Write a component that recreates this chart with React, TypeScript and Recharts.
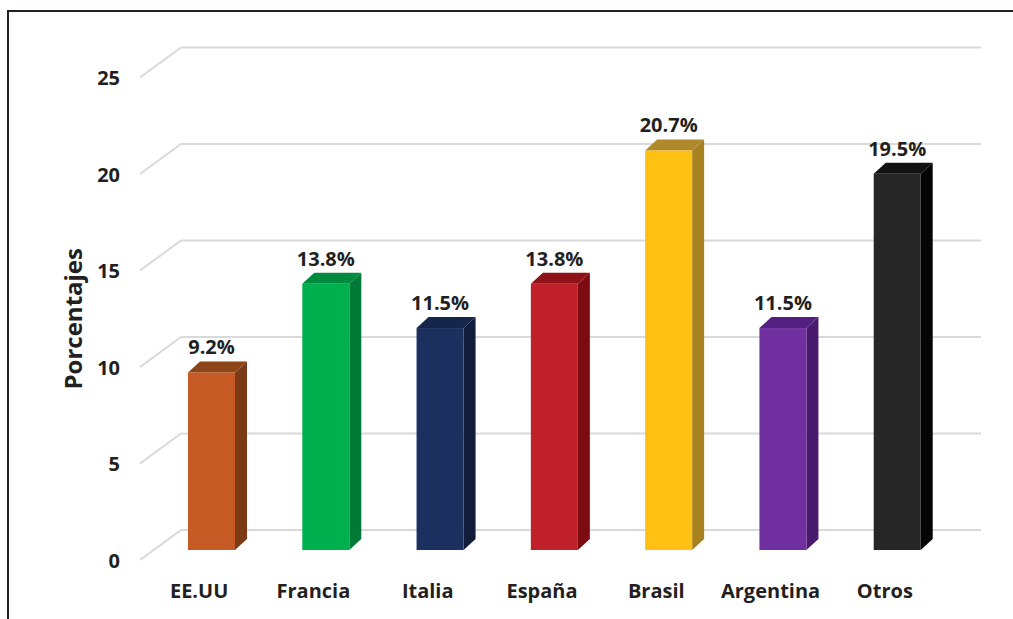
import React from "react";
import { Bar, BarChart, CartesianGrid, LabelList, XAxis, YAxis } from "recharts";

const countries = ["EE.UU", "Francia", "Italia", "España", "Brasil", "Argentina", "Otros"];
const shares = [9.2, 13.8, 11.5, 13.8, 20.7, 11.5, 19.5];
const yTicks = [0, 5, 10, 15, 20, 25];

// front / top / side shades for the fake 3D bars
const palette = [
  { front: "#c55a24", top: "#8c4419", side: "#7b3b16" },
  { front: "#00b04f", top: "#008a3e", side: "#007a36" },
  { front: "#1c305f", top: "#16264a", side: "#101c3a" },
  { front: "#c0202a", top: "#8f1218", side: "#7d0c12" },
  { front: "#ffc014", top: "#b08a2a", side: "#a8821f" },
  { front: "#7030a0", top: "#522080", side: "#4a1a6e" },
  { front: "#262626", top: "#111111", side: "#050505" }
];

const rows = countries.map((name, i) => ({ name, value: shares[i] }));

const FONT = "'Open Sans', sans-serif";
const TEXT = "#231f20";
const GRID = "#d9d9d9";
const DX = 12;
const DY = 11;

function GridLine(props: any) {
  const { x1, x2, y1 } = props;
  return (
    <g key={props.key}>
      <line x1={x1 - 14} y1={y1 + 10} x2={x1 + 27} y2={y1 - 20} stroke={GRID} strokeWidth={2} />
      <line x1={x1 + 27} y1={y1 - 20} x2={x2 + 27} y2={y1 - 20} stroke={GRID} strokeWidth={2} />
    </g>
  );
}

function Bar3D(props: any) {
  const { x, y, width, height, index } = props;
  const c = palette[index % palette.length];
  const bottom = y + height;
  return (
    <g>
      <path
        d={`M${x + width},${y} L${x + width + DX},${y - DY} L${x + width + DX},${bottom - DY} L${x + width},${bottom} Z`}
        fill={c.side}
      />
      <path
        d={`M${x},${y} L${x + DX},${y - DY} L${x + width + DX},${y - DY} L${x + width},${y} Z`}
        fill={c.top}
      />
      <rect x={x} y={y} width={width} height={height} fill={c.front} />
    </g>
  );
}

function ValueLabel(props: any) {
  const { x, y, width, value } = props;
  return (
    <text x={x + width / 2} y={y - 18} textAnchor="middle" fill={TEXT} fontFamily={FONT} fontWeight={700} fontSize={20}>
      {`${value.toFixed(1)}%`}
    </text>
  );
}

function CategoryTick(props: any) {
  const { x, y, payload } = props;
  return (
    <text x={x - 12} y={y + 40} textAnchor="middle" fill={TEXT} fontFamily={FONT} fontWeight={700} fontSize={20}>
      {payload.value}
    </text>
  );
}

function ValueTick(props: any) {
  const { y, payload } = props;
  return (
    <text x={120} y={y + 10} textAnchor="end" dominantBaseline="central" fill={TEXT} fontFamily={FONT} fontWeight={700} fontSize={20}>
      {payload.value}
    </text>
  );
}

function AxisTitle(props: any) {
  const vb = props.viewBox || { y: 67, height: 483 };
  const cy = vb.y + vb.height / 2 + 10;
  return (
    <text
      x={72}
      y={cy}
      transform={`rotate(-90 72 ${cy})`}
      textAnchor="middle"
      dominantBaseline="central"
      fill={TEXT}
      fontFamily={FONT}
      fontWeight={700}
      fontSize={24}
    >
      Porcentajes
    </text>
  );
}

export default function App() {
  return (
    <div style={{ position: "absolute", left: 0, top: 0, width: 1013, height: 619, background: "#fff", overflow: "hidden" }}>
      <div style={{ position: "absolute", left: 8, top: 10, width: 1005, height: 2, background: "#231f20" }} />
      <div style={{ position: "absolute", left: 7, top: 10, width: 2, height: 609, background: "#231f20" }} />
      <div style={{ position: "absolute", left: 0, top: 0 }}>
        <BarChart width={1013} height={619} data={rows} margin={{ top: 67.5, right: 59, bottom: 19, left: 94 }}>
          <CartesianGrid vertical={false} horizontal={(p: any) => <GridLine {...p} />} stroke={GRID} />
          <XAxis dataKey="name" axisLine={false} tickLine={false} height={50} interval={0} tick={<CategoryTick />} />
          <YAxis
            width={60}
            domain={[0, 25]}
            ticks={yTicks}
            axisLine={false}
            tickLine={false}
            tick={<ValueTick />}
            label={<AxisTitle />}
          />
          <Bar dataKey="value" barSize={47} shape={<Bar3D />} isAnimationActive={false}>
            <LabelList dataKey="value" content={<ValueLabel />} />
          </Bar>
        </BarChart>
      </div>
    </div>
  );
}
